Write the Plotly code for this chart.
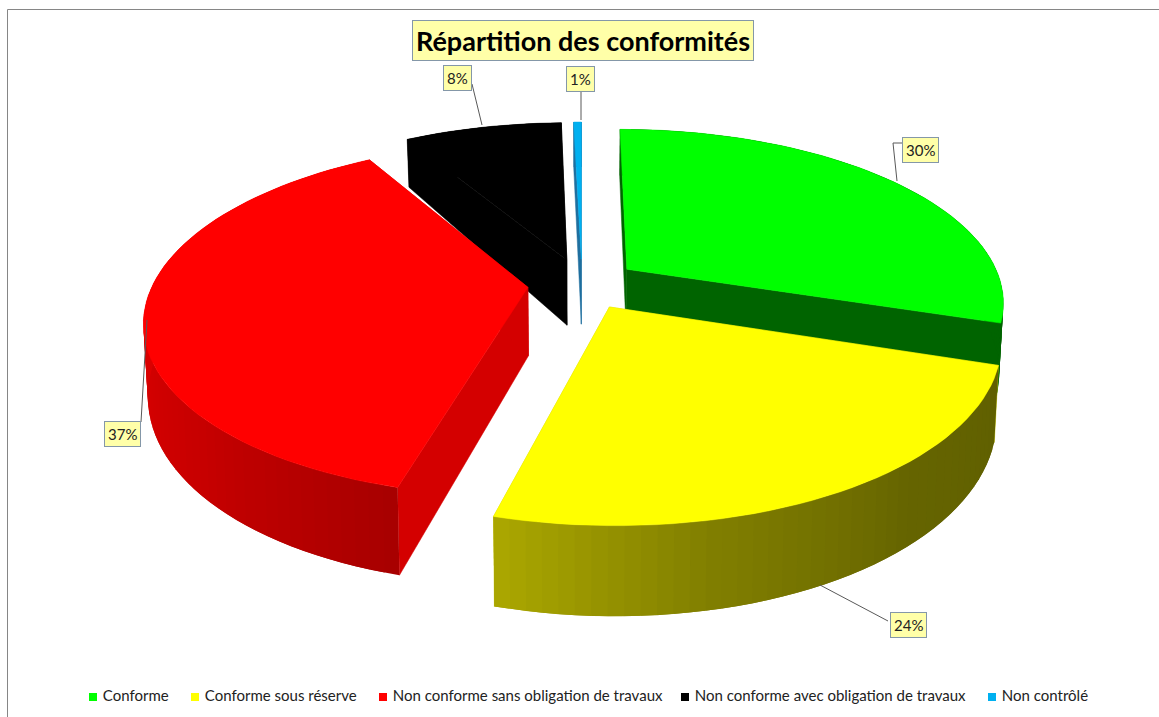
import numpy as np
import plotly.graph_objects as go

# --- data ---
categories = ["Conforme", "Conforme sous réserve", "Non conforme sans obligation de travaux",
              "Non conforme avec obligation de travaux", "Non contrôlé"]
values = [30, 24.2, 37.3, 8.1, 0.4]
pct_labels = ["30%", "24%", "37%", "8%", "1%"]
title_text = "Répartition des conformités"

# --- style ---
top_colors = ["#00ff00", "#ffff00", "#ff0000", "#000000", "#00b0f0"]
cut_colors = ["#006400", "#c8c800", "#d40000", "#000000", "#1f6f9f"]
rim_stops = [
    [(0, (0, 100, 0)), (1, (0, 100, 0))],
    [(0, (96, 96, 0)), (0.35, (102, 101, 0)), (0.7, (130, 128, 0)), (1, (172, 168, 0))],
    [(0, (168, 0, 0)), (0.25, (200, 0, 0)), (0.6, (226, 0, 0)), (1, (232, 0, 0))],
    [(0, (0, 0, 0)), (1, (0, 0, 0))],
    [(0, (31, 111, 159)), (1, (31, 111, 159))],
]
draw_order = [4, 3, 0, 2, 1]
pulls = [0.15, 0.15, 0.145, 0.15, 0.15]
label_boxes = [(920, 150), (908, 625), (122, 434), (457, 78), (580, 79)]
leaders = [
    ([904, 893, 897], [143, 143, 181]),
    ([888, 820], [621, 585]),
    ([141, 147], [422, 320]),
    ([472, 482], [84, 125]),
    ([581, 581], [91, 120]),
]
legend_x = [93, 195, 383, 685, 992]
legend_y = 697

# --- projection of the tilted disc on to the page ---
CX, CY = 582, 284
BX, AY, K = 375, 170, 0.18
H0, H1 = 68, 20


def top(X, Y):
    s = 1 / (1 + K * Y)
    return CX + BX * X * s, CY - AY * Y * s


def bottom(X, Y):
    x, y = top(X, Y)
    return CX + (x - CX) * 0.99, y + (H0 - H1 * Y)


def blend(stops, t):
    for (t0, c0), (t1, c1) in zip(stops, stops[1:]):
        if t <= t1:
            f = (t - t0) / (t1 - t0)
            return "rgb(%d,%d,%d)" % tuple(a + (b - a) * f for a, b in zip(c0, c1))
    return "rgb(%d,%d,%d)" % stops[-1][1]


fig = go.Figure()


def poly(xs, ys, color, width=0.0):
    fig.add_trace(go.Scatter(x=list(xs) + [xs[0]], y=list(ys) + [ys[0]], mode="lines", fill="toself",
                             fillcolor=color, line=dict(color=color, width=width),
                             hoverinfo="skip", showlegend=False))


edges = np.concatenate([[0], np.cumsum(values)]) / sum(values) * 360
for i in draw_order:
    a0, a1 = edges[i], edges[i + 1]
    mid = np.radians((a0 + a1) / 2)
    ox, oy = pulls[i] * np.sin(mid), pulls[i] * np.cos(mid)
    n = max(3, int((a1 - a0) / 2))
    ang = np.radians(np.linspace(a0, a1, n + 1))
    RX, RY = ox + np.sin(ang), oy + np.cos(ang)
    # cut faces
    for k in (0, -1):
        p = [top(ox, oy), top(RX[k], RY[k]), bottom(RX[k], RY[k]), bottom(ox, oy)]
        poly([q[0] for q in p], [q[1] for q in p], cut_colors[i], 0.5)
    # outer wall, shaded along its length: each quad reaches under the next, so no seams show
    for j in range(n):
        t = (j + 0.5) / n
        j2 = min(j + 2, n)
        p = [top(RX[j], RY[j]), top(RX[j2], RY[j2]), bottom(RX[j2], RY[j2]), bottom(RX[j], RY[j])]
        poly([q[0] for q in p], [q[1] for q in p], blend(rim_stops[i], t))
    # top face
    tx, ty = top(np.append(RX, ox), np.append(RY, oy))
    poly(tx.tolist(), ty.tolist(), top_colors[i], 0.5)

# leader lines
for lx, ly in leaders:
    fig.add_trace(go.Scatter(x=lx, y=ly, mode="lines", line=dict(color="#595959", width=1),
                             hoverinfo="skip", showlegend=False))

# legend entries
for name, col, lx in zip(categories, top_colors, legend_x):
    fig.add_trace(go.Scatter(x=[lx], y=[legend_y], mode="markers+text", name=name, text=["\u00a0" + name],
                             textposition="middle right", showlegend=False, hoverinfo="skip",
                             textfont=dict(family="Lato", size=15, color="#222222"),
                             marker=dict(symbol="square", size=8, color=col)))

box = dict(bgcolor="#ffffa8", bordercolor="#8497a8", borderwidth=1, showarrow=False, xref="x", yref="y")
annotations = [dict(x=bx, y=by, text=t, font=dict(family="Lato", size=15, color="#222222"), borderpad=3, **box)
               for (bx, by), t in zip(label_boxes, pct_labels)]
annotations.append(dict(x=583, y=40, text="<b>%s</b>" % title_text,
                        font=dict(family="Lato", size=27, color="#000000"), borderpad=3, **box))

fig.update_layout(
    width=1159, height=717, margin=dict(l=0, r=0, t=0, b=0),
    paper_bgcolor="white", plot_bgcolor="white",
    xaxis=dict(range=[0, 1159], visible=False, domain=[0, 1], fixedrange=True),
    yaxis=dict(range=[717, 0], visible=False, domain=[0, 1], fixedrange=True),
    annotations=annotations,
    showlegend=False,
    shapes=[
        dict(type="line", xref="x", yref="y", x0=7.5, x1=1159, y0=9.5, y1=9.5, line=dict(color="#868686", width=1)),
        dict(type="line", xref="x", yref="y", x0=7.5, x1=7.5, y0=9.5, y1=717, line=dict(color="#868686", width=1)),
    ],
)
fig.write_html("out.html", config={"displayModeBar": False},
               post_script="document.body.style.margin='0';document.body.style.overflow='hidden';")
